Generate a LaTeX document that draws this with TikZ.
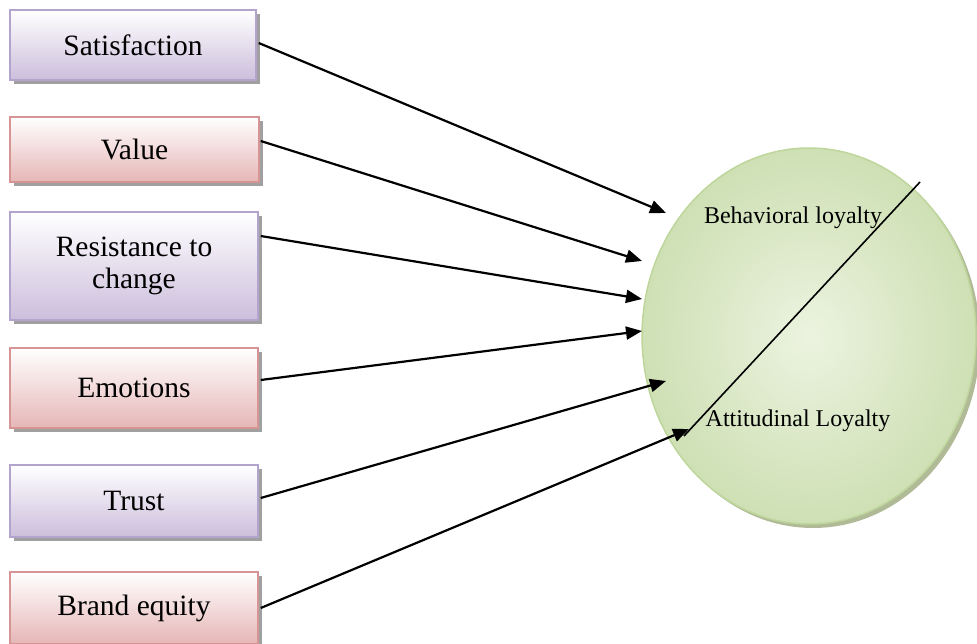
\documentclass[tikz,border=0pt]{standalone}
\usepackage{fontspec}
\setmainfont{Liberation Serif}
\usetikzlibrary{shapes.geometric,arrows.meta,calc}
\definecolor{purpB}{RGB}{178,164,204}
\definecolor{purpF}{RGB}{204,190,220}
\definecolor{redB}{RGB}{214,148,148}
\definecolor{redF}{RGB}{230,182,182}
\definecolor{shadowG}{RGB}{160,160,160}
\definecolor{greenB}{RGB}{190,214,156}
\definecolor{greenIn}{RGB}{236,243,224}
\definecolor{greenOut}{RGB}{206,224,180}
\tikzset{
  factor/.style={rectangle, draw, line width=1.5pt, font=\fontsize{29.5}{32}\selectfont,
    align=center, inner sep=2pt},
  purpbox/.style={factor, draw=purpB, top color=white, bottom color=purpF},
  redbox/.style={factor, draw=redB, top color=white, bottom color=redF},
  link/.style={line width=2.2pt, -{Triangle[length=16pt,width=13pt]}},
  inlabel/.style={font=\fontsize{24}{28}\selectfont}
}
\begin{document}
\begin{tikzpicture}[x=1pt,y=-1pt]
\useasboundingbox (0,0) rectangle (977,644);
% shadows of boxes
\foreach \cx/\cy/\w/\h in {133/45/246/70, 134.5/149.5/249/65, 134/266/248/108, 134/388/248/80, 134/501/248/72, 134/608/248/72}{
  \fill[shadowG] (\cx-\w/2+4,\cy-\h/2+4) rectangle (\cx+\w/2+4,\cy+\h/2+4);
}
\node[purpbox, minimum width=246pt, minimum height=70pt] (sat) at (133,45) {Satisfaction};
\node[redbox, minimum width=249pt, minimum height=65pt] (val) at (134.5,149.5) {Value};
\node[purpbox, minimum width=248pt, minimum height=108pt] (res) at (134,266) {Resistance to\\change};
\node[redbox, minimum width=248pt, minimum height=80pt] (emo) at (134,388) {Emotions};
\node[purpbox, minimum width=248pt, minimum height=72pt] (tru) at (134,501) {Trust};
\node[redbox, minimum width=248pt, minimum height=72pt] (bra) at (134,608) {Brand equity};
% ellipse
\fill[color={rgb,255:red,176;green,186;blue,150}] (813,340) ellipse (167pt and 188pt);
\node[ellipse, draw=greenB, line width=1.5pt, inner color=greenIn, outer color=greenOut,
  minimum width=334pt, minimum height=376pt] (loy) at (809,336) {};
\node[inlabel] (beh) at (793,218) {Behavioral loyalty};
\node[inlabel] (att) at (798,421) {Attitudinal Loyalty};
\coordinate (d1) at (920,182);
\coordinate (d2) at (684,436);
\draw[line width=1.6pt] (d1) -- (d2);
% arrow ends
\coordinate (e1) at (666,213);
\coordinate (e2) at (642,261);
\coordinate (e3) at (642,299);
\coordinate (e4) at (642,331);
\coordinate (e5) at (666,381);
\coordinate (e6) at (689,429);
\draw[link] ([yshift=2pt,xshift=2pt]sat.east) -- (e1);
\draw[link] ([yshift=8.5pt,xshift=1pt]val.east) -- (e2);
\draw[link] ([yshift=30pt,xshift=2pt]res.east) -- (e3);
\draw[link] ([yshift=8pt,xshift=2pt]emo.east) -- (e4);
\draw[link] ([yshift=3pt,xshift=2pt]tru.east) -- (e5);
\draw[link] ([xshift=2pt]bra.east) -- (e6);
\end{tikzpicture}
\end{document}
